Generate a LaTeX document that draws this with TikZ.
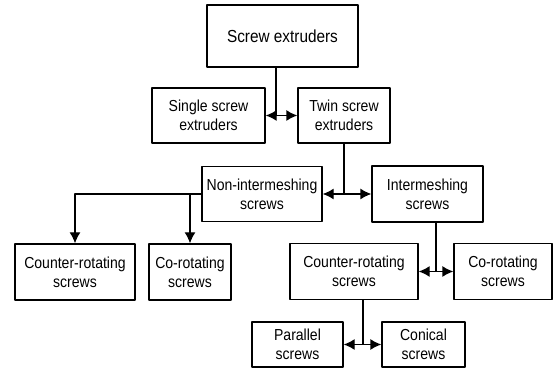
\documentclass[tikz,border=0pt]{standalone}
\usepackage{fontspec}
\setmainfont[FakeStretch=0.88]{Liberation Sans}
\usepackage{tikz}
\usetikzlibrary{arrows.meta}

\tikzset{
  blk/.style={draw, line width=1.3bp, inner sep=0pt, align=center,
    font=\fontsize{16}{19}\selectfont},
}

\begin{document}
\begin{tikzpicture}[>={Latex[length=11bp,width=11bp]},line join=bevel,]
  \pgfsetlinewidth{1.3bp}
  \useasboundingbox (0bp,0bp) rectangle (557bp,368bp);
%%
\pgfsetcolor{black}
  % Node: top
  \node [blk, minimum width=151bp, minimum height=62bp, font=\fontsize{17.5}{21}\selectfont] (top) at (282.5bp,332bp) {Screw extruders};
  % Node: single
  \node [blk, minimum width=113bp, minimum height=55bp] (single) at (208.5bp,252.5bp) {Single screw\\extruders};
  % Node: twin
  \node [blk, minimum width=92bp, minimum height=55bp] (twin) at (344bp,252.5bp) {Twin screw\\extruders};
  % Node: nonint
  \node [blk, minimum width=120bp, minimum height=55bp] (nonint) at (262bp,174bp) {Non-intermeshing\\screws};
  % Node: inter
  \node [blk, minimum width=111bp, minimum height=56bp] (inter) at (427.5bp,174bp) {Intermeshing\\screws};
  % Node: ctrL
  \node [blk, minimum width=120bp, minimum height=56bp] (ctrL) at (75bp,96bp) {Counter-rotating\\screws};
  % Node: coL
  \node [blk, minimum width=82bp, minimum height=56bp] (coL) at (190bp,96bp) {Co-rotating\\screws};
  % Node: ctrM
  \node [blk, minimum width=128bp, minimum height=56bp] (ctrM) at (354bp,96.5bp) {Counter-rotating\\screws};
  % Node: coR
  \node [blk, minimum width=98bp, minimum height=56bp] (coR) at (503bp,96.5bp) {Co-rotating\\screws};
  % Node: par
  \node [blk, minimum width=91bp, minimum height=45bp] (par) at (297.5bp,23.5bp) {Parallel\\screws};
  % Node: con
  \node [blk, minimum width=83bp, minimum height=45bp] (con) at (423.5bp,23.5bp) {Conical\\screws};
  % Junctions
  \coordinate (j1) at (276bp,252.5bp);
  \coordinate (j2) at (344bp,174bp);
  \coordinate (j3) at (436bp,96.5bp);
  \coordinate (j4) at (363bp,23.5bp);
  % Edge: top -> single, twin
  \draw (top.south -| j1) -- (j1);
  \draw [<->] (single.east) -- (twin.west);
  % Edge: twin -> nonint, inter
  \draw (twin.south) -- (j2);
  \draw [<->] (nonint.east) -- (inter.west);
  % Edge: nonint -> ctrL, coL
  \draw [->] (nonint.west) -| (ctrL.north);
  \draw [->] (nonint.west -| coL.north) -- (coL.north);
  % Edge: inter -> ctrM, coR
  \draw (inter.south -| j3) -- (j3);
  \draw [<->] (ctrM.east) -- (coR.west);
  % Edge: ctrM -> par, con
  \draw (ctrM.south -| j4) -- (j4);
  \draw [<->] (par.east) -- (con.west);
%
\end{tikzpicture}
\end{document}
